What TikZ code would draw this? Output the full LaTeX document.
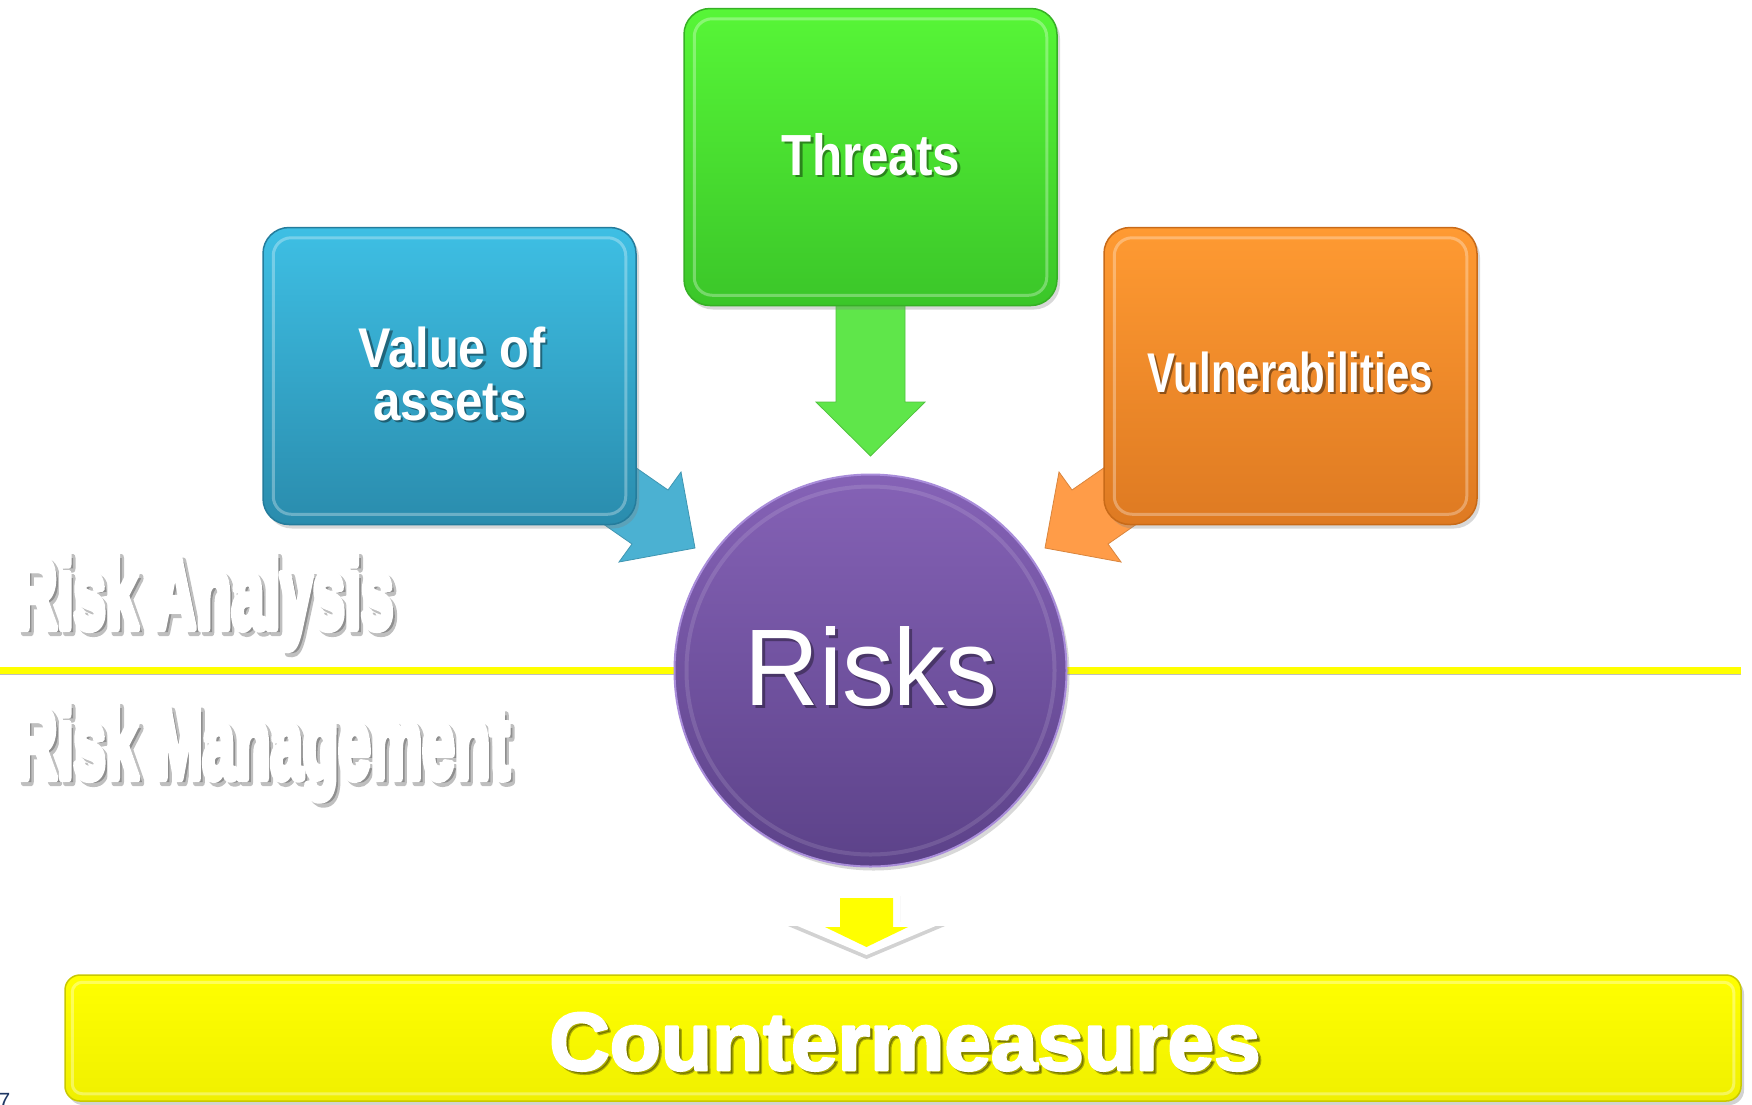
\documentclass[tikz,border=0pt]{standalone}
\usepackage{fontspec}
\usepackage{graphicx}
\setmainfont{Liberation Sans}
\newfontfamily\impf{Liberation Sans}[BoldFeatures={FakeBold=8}]
\newfontfamily\cmf{Liberation Sans}[BoldFeatures={FakeBold=3}]
\usetikzlibrary{shadows}
\definecolor{gTop}{HTML}{57F637}
\definecolor{gBot}{HTML}{3BC629}
\definecolor{gLine}{HTML}{36B025}
\definecolor{gArrow}{HTML}{5FE64A}
\definecolor{bTop}{HTML}{3EBFE4}
\definecolor{bBot}{HTML}{2A8CAD}
\definecolor{bLine}{HTML}{247C9C}
\definecolor{bArrow}{HTML}{4BB1D2}
\definecolor{oTop}{HTML}{FF9A32}
\definecolor{oBot}{HTML}{DE7A22}
\definecolor{oLine}{HTML}{C86A18}
\definecolor{oArrow}{HTML}{FF9C48}
\definecolor{pTop}{HTML}{8562B6}
\definecolor{pBot}{HTML}{5C4289}
\definecolor{pRim}{HTML}{A98DDA}
\definecolor{yel}{HTML}{FFFF00}
\definecolor{yelD}{HTML}{C9C900}
\definecolor{pgnum}{HTML}{1F3864}
% text with a soft drop shadow inside the same box
\newcommand\shtext[3]{\makebox[0pt][l]{\hspace{#1}\raisebox{-#1}{\pgfsetfillopacity{#2}\pgfsetstrokeopacity{#2}\color{black}#3}\pgfsetfillopacity{1}\pgfsetstrokeopacity{1}}#3}
\begin{document}
\begin{tikzpicture}[x=1pt,y=-1pt,
  box/.style={rounded corners=26pt, inner sep=0pt, line width=1.5pt,
    minimum width=373pt, minimum height=297pt,
    drop shadow={opacity=0.3, shadow xshift=3pt, shadow yshift=-4pt}},
  bevel/.style={white, opacity=0.3, line width=3pt, rounded corners=18pt},
  wt/.style={text=white, inner sep=0pt, anchor=base},
  wtw/.style={text=white, inner sep=0pt, anchor=base west},
  blockarrow/.style={line width=0.8pt, line join=miter}
]
\useasboundingbox[fill=white] (0,0) rectangle (1752,1104);

% dividing line
\coordinate (lineL) at (0,670);
\coordinate (lineR) at (1741,670);
\draw[black!25, line width=4pt] ([yshift=-3pt]lineL) -- ([yshift=-3pt]lineR);
\draw[yel, line width=7pt] (lineL) -- (lineR);

% block arrows (drawn before boxes so the shafts hide behind them)
\fill[blockarrow, fill=gArrow, draw=gArrow!85!black]
  (836,290) -- (905,290) -- (905,402) -- (925,402) -- (870.5,456)
  -- (816,402) -- (836,402) -- cycle;
\fill[blockarrow, fill=bArrow, draw=bArrow!85!black]
  (586,433) -- (668,490) -- (681,472) -- (695,548) -- (619,562)
  -- (632,544) -- (550,487) -- cycle;
\fill[blockarrow, fill=oArrow, draw=oArrow!85!black]
  (1154,433) -- (1072,490) -- (1059,472) -- (1045,548) -- (1121,562)
  -- (1108,544) -- (1190,487) -- cycle;

% boxes
\node[box, top color=gTop, bottom color=gBot, draw=gLine] (threats) at (870.5,157) {};
\node[box, top color=bTop, bottom color=bBot, draw=bLine] (value) at (449.5,376) {};
\node[box, top color=oTop, bottom color=oBot, draw=oLine] (vuln) at (1290.5,376) {};
\foreach \b in {threats,value,vuln}{
  \draw[bevel] ([xshift=11pt,yshift=-11pt]\b.north west) rectangle ([xshift=-11pt,yshift=11pt]\b.south east);
}

% central circle
\node[circle, inner sep=0pt, minimum size=392pt, top color=pTop, bottom color=pBot,
      draw=pRim, line width=2pt,
      drop shadow={opacity=0.3, shadow xshift=3pt, shadow yshift=-4pt}] (risks) at (870.5,670.5) {};
\draw[white, opacity=0.12, line width=4pt] (risks.center) circle[radius=184pt];

% small yellow arrow
\fill[white, drop shadow={opacity=0.35, shadow xshift=0pt, shadow yshift=-4pt}]
  (832,892) -- (900,892) -- (900,922) -- (945,922) -- (866.5,955)
  -- (788,922) -- (832,922) -- cycle;
\fill[yel]
  (840,898) -- (893,898) -- (893,927) -- (908,927) -- (866.5,947)
  -- (825,927) -- (840,927) -- cycle;

% countermeasures bar
\node[rounded corners=15pt, inner sep=0pt, minimum width=1676pt, minimum height=126pt,
      top color=yel, bottom color=yel!94!black, draw=yelD, line width=1.5pt,
      drop shadow={opacity=0.35, shadow xshift=3pt, shadow yshift=-4pt}] (cm) at (903,1038) {};
\draw[white, opacity=0.35, line width=3pt, rounded corners=10pt]
  ([xshift=8pt,yshift=-8pt]cm.north west) rectangle ([xshift=-8pt,yshift=8pt]cm.south east);

% texts
\node[wt] (threats-t) at (871,175) {\bfseries\fontsize{58}{58}\selectfont\shtext{2.5pt}{0.4}{\scalebox{0.85}[1]{Threats}}};
\node[wt] (val1) at (452,367) {\bfseries\fontsize{56}{56}\selectfont\shtext{2.5pt}{0.4}{\scalebox{0.87}[1]{Value of}}};
\node[wt] (val2) at (450,420) {\bfseries\fontsize{56}{56}\selectfont\shtext{2.5pt}{0.4}{\scalebox{0.88}[1]{assets}}};
\node[wt] (vuln-t) at (1290,392) {\bfseries\fontsize{56}{56}\selectfont\shtext{2.5pt}{0.4}{\scalebox{0.75}[1]{Vulnerabilities}}};
\node[wt] (risks-t) at (871,705) {\fontsize{109}{109}\selectfont\shtext{3pt}{0.35}{\scalebox{0.95}[1]{Risks}}};
\node[wt] (cm-t) at (905,1070) {\pgfsetroundjoin\cmf\bfseries\fontsize{82}{82}\selectfont\shtext{3pt}{0.3}{\scalebox{1.02}[1]{Countermeasures}}};

\node[wtw] (ra) at (15,628) {\pgfsetroundjoin\impf\bfseries\fontsize{102}{102}\selectfont\shtext{4pt}{0.25}{\scalebox{0.57}[1]{Risk Analysis}}};
\node[wtw] (rm) at (15,778) {\pgfsetroundjoin\impf\bfseries\fontsize{102}{102}\selectfont\shtext{4pt}{0.25}{\scalebox{0.57}[1]{Risk Management}}};

\node[text=pgnum, inner sep=0pt, anchor=base west] (pg) at (-2,1108) {\fontsize{22}{22}\selectfont 7};
\end{tikzpicture}
\end{document}
